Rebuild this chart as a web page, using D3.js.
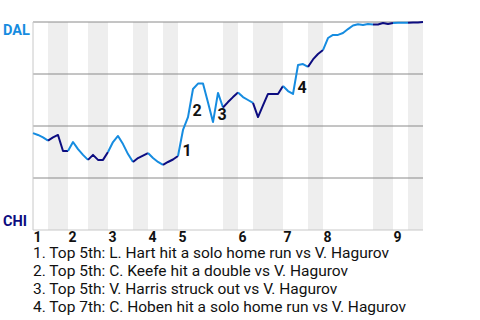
<!DOCTYPE html>
<html>
<head>
<meta charset="utf-8">
<script src="https://cdn.jsdelivr.net/npm/d3@7"></script>
<style>
  body { margin: 0; background: #fff; }
  svg { display: block; font-family: Roboto, sans-serif; }
</style>
</head>
<body>
<div id="chart"></div>
<script>
// Win probability for DAL (percent), one value per event, starting before first pitch
const winProb = [
  46.6, 45.7, 44.5, 43.0,                 // top 1
  44.5, 45.7, 38.0, 38.0,                 // bottom 1
  42.3, 38.9, 36.1, 33.7,                 // top 2
  36.1, 33.7, 33.7, 37.5,                 // bottom 2
  42.3, 45.2, 41.3, 36.5, 32.7,           // top 3
  34.6, 35.8, 37.0,                       // bottom 3
  34.6, 32.7, 31.3,                       // top 4
  32.7, 33.9, 35.6,                       // bottom 4
  48.1, 54.3, 67.8, 70.4, 70.4, 61.3, 51.9, 65.9, 58.9, // top 5
  61.5, 63.9, 66.1,                       // bottom 5
  63.9, 62.5, 61.1,                       // top 6
  54.3, 59.9, 65.4, 65.4, 65.4, 69.2,     // bottom 6
  66.8, 65.4, 79.3, 79.8, 78.4,           // top 7
  82.0, 84.6, 86.5,                       // bottom 7
  92.3, 93.8, 93.8, 94.7, 96.6, 98.3, 98.9, 98.6, 99.0, 98.8, // top 8
  98.8, 99.5, 99.0, 99.5,                 // bottom 8
  99.6, 99.6, 99.6,                       // top 9
  99.8, 99.8, 100                         // bottom 9
];

// number of events in each half inning (top 1, bottom 1, top 2, ...)
const halfInningEvents = [3, 4, 4, 4, 5, 3, 3, 3, 9, 3, 3, 6, 5, 3, 10, 4, 3, 3];
const inningLabels = ["1", "2", "3", "4", "5", "6", "7", "8", "9"];

// annotated events (index of the event's end point)
const noteEvents = [30, 32, 37, 53];
const noteTexts = [
  "1. Top 5th: L. Hart hit a solo home run vs V. Hagurov",
  "2. Top 5th: C. Keefe hit a double vs V. Hagurov",
  "3. Top 5th: V. Harris struck out vs V. Hagurov",
  "4. Top 7th: C. Hoben hit a solo home run vs V. Hagurov"
];

const teams = ["DAL", "CHI"];
const gridLevels = [100, 75, 50, 25];

const width = 480, height = 320;
const margin = { top: 22, right: 57, bottom: 90, left: 33 };
const colorTop = "#168ce0", colorBottom = "#0c0c80";

const svg = d3.select("#chart").append("svg")
  .attr("width", width)
  .attr("height", height);

const x = d3.scaleLinear()
  .domain([0, winProb.length - 1])
  .range([margin.left, width - margin.right]);

const y = d3.scaleLinear()
  .domain([0, 100])
  .range([height - margin.bottom, margin.top]);

// half inning boundaries
const starts = [];
let acc = 0;
halfInningEvents.forEach(n => { starts.push(acc); acc += n; });

// shaded bottom halves
svg.append("g")
  .selectAll("rect")
  .data(halfInningEvents.map((n, i) => ({ s: starts[i], n, i })).filter(d => d.i % 2 === 1))
  .join("rect")
  .attr("x", d => x(d.s))
  .attr("width", d => x(d.s + d.n) - x(d.s))
  .attr("y", y(100))
  .attr("height", y(0) - y(100))
  .attr("fill", "#eeeeee");

// grid lines
svg.append("g")
  .selectAll("line")
  .data(gridLevels)
  .join("line")
  .attr("x1", x.range()[0])
  .attr("x2", x.range()[1])
  .attr("y1", d => y(d))
  .attr("y2", d => y(d))
  .attr("stroke", "#8a8a8a")
  .attr("stroke-width", 1);

// axis lines
svg.append("line")
  .attr("x1", x.range()[0]).attr("x2", x.range()[1])
  .attr("y1", y(0)).attr("y2", y(0))
  .attr("stroke", "#c8c8c8");
svg.append("line")
  .attr("x1", x.range()[0]).attr("x2", x.range()[0])
  .attr("y1", y(0)).attr("y2", y(100))
  .attr("stroke", "#c8c8c8");

// win probability line, one path per half inning
const line = d3.line()
  .x(d => x(d.i))
  .y(d => y(d.v));

halfInningEvents.forEach((n, k) => {
  const pts = d3.range(starts[k], starts[k] + n + 1).map(i => ({ i, v: winProb[i] }));
  svg.append("path")
    .datum(pts)
    .attr("fill", "none")
    .attr("stroke", k % 2 === 0 ? colorTop : colorBottom)
    .attr("stroke-width", 2)
    .attr("stroke-linejoin", "round")
    .attr("d", line);
});

// event numbers on the line
svg.append("g")
  .selectAll("text")
  .data(noteEvents)
  .join("text")
  .attr("x", i => (x(i - 1) + x(i)) / 2 + 6.5)
  .attr("y", i => (y(winProb[i - 1]) + y(winProb[i])) / 2 + 13)
  .attr("text-anchor", "middle")
  .attr("font-size", 16)
  .attr("font-weight", "bold")
  .attr("fill", "#111")
  .text((d, i) => i + 1);

// team labels
svg.append("text")
  .attr("x", 3).attr("y", y(100) + 12.5)
  .attr("font-size", 14.5).attr("font-weight", "bold")
  .attr("fill", colorTop)
  .text(teams[0]);
svg.append("text")
  .attr("x", 3).attr("y", y(0) - 4)
  .attr("font-size", 14.5).attr("font-weight", "bold")
  .attr("fill", colorBottom)
  .text(teams[1]);

// inning labels at start of each top half
svg.append("g")
  .selectAll("text")
  .data(inningLabels)
  .join("text")
  .attr("x", (d, i) => x(starts[i * 2]) + 0.5)
  .attr("y", y(0) + 11.5)
  .attr("font-size", 14)
  .attr("font-weight", "bold")
  .attr("fill", "#111")
  .text(d => d);

// notes
svg.append("g")
  .selectAll("text")
  .data(noteTexts)
  .join("text")
  .attr("x", margin.left)
  .attr("y", (d, i) => 258 + i * 18)
  .attr("font-size", 15.5)
  .attr("fill", "#111")
  .text(d => d);
</script>
</body>
</html>
